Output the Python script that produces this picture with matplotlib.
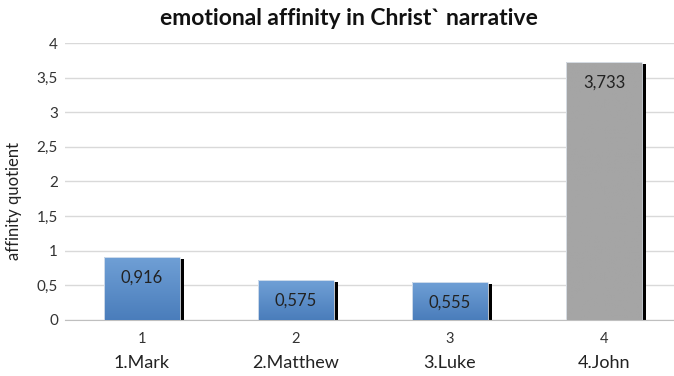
import numpy as np
import matplotlib
matplotlib.use("Agg")
import matplotlib.pyplot as plt
from matplotlib.colors import LinearSegmentedColormap
import matplotlib.transforms as mtransforms

# === Data ===
positions = [1, 2, 3, 4]
gospels = ["1.Mark", "2.Matthew", "3.Luke", "4.John"]
affinity = [0.916, 0.575, 0.555, 3.733]
value_labels = ["0,916", "0,575", "0,555", "3,733"]
yticks = [0, 0.5, 1, 1.5, 2, 2.5, 3, 3.5, 4]
ytick_labels = ["0", "0,5", "1", "1,5", "2", "2,5", "3", "3,5", "4"]

plt.rcParams['font.family'] = ['Lato', 'DejaVu Sans']

fig = plt.figure(figsize=(6.74, 3.76), dpi=100)
ax = fig.add_axes([0.0964, 0.149, 0.9036, 0.7366])

bar_w = 0.49
blue = LinearSegmentedColormap.from_list("blue", ["#4a7dbb", "#70a0d6"])
gray = LinearSegmentedColormap.from_list("gray", ["#a5a5a5", "#a5a5a5"])
grad = np.linspace(0, 1, 256).reshape(-1, 1)

# shadow bars (black, right side)
ax.bar([p + 0.03 for p in positions], [v - 0.03 for v in affinity],
       width=bar_w, color="black", zorder=2)

bars = ax.bar(positions, affinity, width=bar_w, color="none",
              edgecolor="#dfe6ef", linewidth=0.6, zorder=4)
for i, b in enumerate(bars):
    cmap = gray if i == 3 else blue
    x0, h = b.get_x(), b.get_height()
    im = ax.imshow(grad, cmap=cmap, origin="lower", aspect="auto",
                   extent=[x0, x0 + bar_w, 0, h], zorder=3)
    im.set_clip_path(b)
    ax.annotate(value_labels[i], (positions[i], affinity[i]), xytext=(0, -15),
                textcoords="offset points", ha="center", va="center",
                fontsize=12, color="#222222", zorder=5)

ax.set_xlim(0.5, 4.455)
ax.set_ylim(0, 4)
ax.set_yticks(yticks)
ax.set_yticklabels(ytick_labels, fontsize=11, color="#333333")
ax.set_xticks(positions)
ax.set_xticklabels([str(p) for p in positions], fontsize=10.5, color="#333333")
ax.tick_params(axis="x", length=0, pad=9)
ax.tick_params(axis="y", length=0, pad=5)

trans = mtransforms.blended_transform_factory(ax.transData, ax.transAxes)
for p, name in zip(positions, gospels):
    ax.text(p, -0.155, name, transform=trans, ha="center", va="center",
            fontsize=13, color="#222222")

ax.grid(axis="y", color="#d9d9d9", linewidth=1)
ax.set_axisbelow(True)
for s in ["top", "right", "left"]:
    ax.spines[s].set_visible(False)
ax.spines["bottom"].set_color("#bfbfbf")

ax.set_ylabel("affinity quotient", fontsize=12, color="#222222")
ax.yaxis.set_label_coords(-0.07, 0.43)
fig.text(0.518, 0.95, "emotional affinity in Christ` narrative", ha="center",
         va="center", fontsize=16.5, fontweight="bold", color="#111111")

plt.savefig("out.png", dpi=100)
